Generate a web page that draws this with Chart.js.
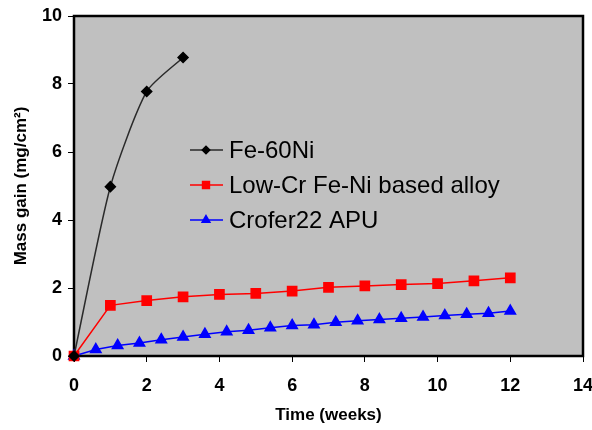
<!DOCTYPE html>
<html>
<head>
<meta charset="utf-8">
<script src="https://cdn.jsdelivr.net/npm/chart.js@4"></script>
<style>
  html, body { margin: 0; padding: 0; background: #fff; }
  #wrap { width: 592px; height: 430px; }
</style>
</head>
<body>
<div id="wrap"><canvas id="massChart" width="592" height="430"></canvas></div>
<script>
// series data (x = weeks, y = mg/cm2)
const feNiWeeks = [0, 1, 2, 3];
const feNiGain = [0, 4.98, 7.78, 8.78];

const lowCrWeeks = [0, 1, 2, 3, 4, 5, 6, 7, 8, 9, 10, 11, 12];
const lowCrGain = [0, 1.49, 1.63, 1.74, 1.81, 1.84, 1.91, 2.02, 2.06, 2.10, 2.13, 2.21, 2.30];

const croferWeeks = [0, 0.6, 1.2, 1.8, 2.4, 3.0, 3.6, 4.2, 4.8, 5.4, 6.0, 6.6, 7.2, 7.8, 8.4, 9.0, 9.6, 10.2, 10.8, 11.4, 12.0];
const croferGain = [0, 0.19, 0.31, 0.38, 0.48, 0.56, 0.64, 0.71, 0.76, 0.83, 0.90, 0.92, 0.99, 1.04, 1.07, 1.11, 1.15, 1.19, 1.23, 1.26, 1.32];

const seriesNames = ['Fe-60Ni', 'Low-Cr Fe-Ni based alloy', 'Crofer22 APU'];
const xTicks = [0, 2, 4, 6, 8, 10, 12, 14];
const yTicks = [0, 2, 4, 6, 8, 10];

function toPoints(xs, ys) {
  return xs.map((x, i) => ({ x: x, y: ys[i] }));
}

// grey plot area + black frame
const plotFrame = {
  id: 'plotFrame',
  beforeDatasetsDraw(chart) {
    const { ctx, chartArea: a } = chart;
    ctx.save();
    ctx.fillStyle = '#c0c0c0';
    ctx.fillRect(a.left, a.top, a.right - a.left, a.bottom - a.top);
    ctx.lineWidth = 2.5;
    ctx.strokeStyle = '#000';
    ctx.strokeRect(a.left, a.top, a.right - a.left, a.bottom - a.top);
    ctx.restore();
  }
};

// legend sits inside the plot area
const innerLegend = {
  id: 'innerLegend',
  afterDatasetsDraw(chart) {
    const ctx = chart.ctx;
    const rows = [150, 185, 220];
    ctx.save();
    chart.data.datasets.forEach((ds, i) => {
      const y = rows[i];
      ctx.strokeStyle = ds.borderColor;
      ctx.lineWidth = 1.5;
      ctx.beginPath();
      ctx.moveTo(190, y);
      ctx.lineTo(223, y);
      ctx.stroke();
      ctx.fillStyle = ds.pointBackgroundColor;
      ctx.strokeStyle = ds.pointBackgroundColor;
      Chart.helpers.drawPoint(ctx, {
        pointStyle: ds.pointStyle,
        radius: ds.pointRadius * 0.75,
        rotation: 0,
        borderWidth: 1
      }, 206, y);
      ctx.fillStyle = '#000';
      ctx.font = '24px "Liberation Sans", Arial, sans-serif';
      ctx.textBaseline = 'middle';
      ctx.textAlign = 'left';
      ctx.fillText(seriesNames[i], 229, y + 1);
    });
    ctx.restore();
  }
};

const tickFont = { family: '"Liberation Sans", Arial, sans-serif', size: 18, weight: 'bold' };
const titleFont = { family: '"Liberation Sans", Arial, sans-serif', size: 17, weight: 'bold' };

new Chart(document.getElementById('massChart'), {
  type: 'line',
  data: {
    datasets: [
      {
        label: seriesNames[0],
        data: toPoints(feNiWeeks, feNiGain),
        borderColor: '#2a2a2a',
        borderWidth: 1.5,
        pointStyle: 'rectRot',
        pointRadius: 5,
        pointBackgroundColor: '#000',
        pointBorderColor: '#000',
        tension: 0.22,
        clip: false
      },
      {
        label: seriesNames[1],
        data: toPoints(lowCrWeeks, lowCrGain),
        borderColor: '#ff0000',
        borderWidth: 1.5,
        pointStyle: 'rect',
        pointRadius: 6.5,
        pointBackgroundColor: '#ff0000',
        pointBorderColor: '#ff0000',
        tension: 0,
        clip: false
      },
      {
        label: seriesNames[2],
        data: toPoints(croferWeeks, croferGain),
        borderColor: '#0000ff',
        borderWidth: 1.5,
        pointStyle: 'triangle',
        pointRadius: 6,
        pointBackgroundColor: '#0000ff',
        pointBorderColor: '#0000ff',
        tension: 0,
        clip: false
      }
    ]
  },
  options: {
    responsive: false,
    animation: false,
    layout: { padding: { top: 16, right: 9, left: 0, bottom: 0 } },
    plugins: {
      legend: { display: false },
      tooltip: { enabled: false }
    },
    scales: {
      x: {
        type: 'linear',
        min: 0,
        max: 14,
        afterBuildTicks: (s) => { s.ticks = xTicks.map(v => ({ value: v })); },
        afterFit: (s) => { s.height = 74; s.paddingRight = 0; s.paddingLeft = 0; },
        border: { display: false },
        grid: { drawOnChartArea: false, drawTicks: true, tickLength: 6, tickColor: '#000', lineWidth: 1 },
        ticks: { color: '#000', font: tickFont, padding: 13, maxRotation: 0 },
        title: { display: true, text: 'Time (weeks)', color: '#000', font: titleFont, padding: { top: 0, bottom: 4 } }
      },
      y: {
        type: 'linear',
        min: 0,
        max: 10,
        afterBuildTicks: (s) => { s.ticks = yTicks.map(v => ({ value: v })); },
        afterFit: (s) => { s.width = 74; s.paddingTop = 0; s.paddingBottom = 0; },
        border: { display: false },
        grid: { drawOnChartArea: false, drawTicks: true, tickLength: 6, tickColor: '#000', lineWidth: 1 },
        ticks: { color: '#000', font: tickFont, padding: 6 },
        title: { display: true, text: 'Mass gain (mg/cm²)', color: '#000', font: titleFont, padding: { top: 11, bottom: 0 } }
      }
    }
  },
  plugins: [plotFrame, innerLegend]
});
</script>
</body>
</html>
